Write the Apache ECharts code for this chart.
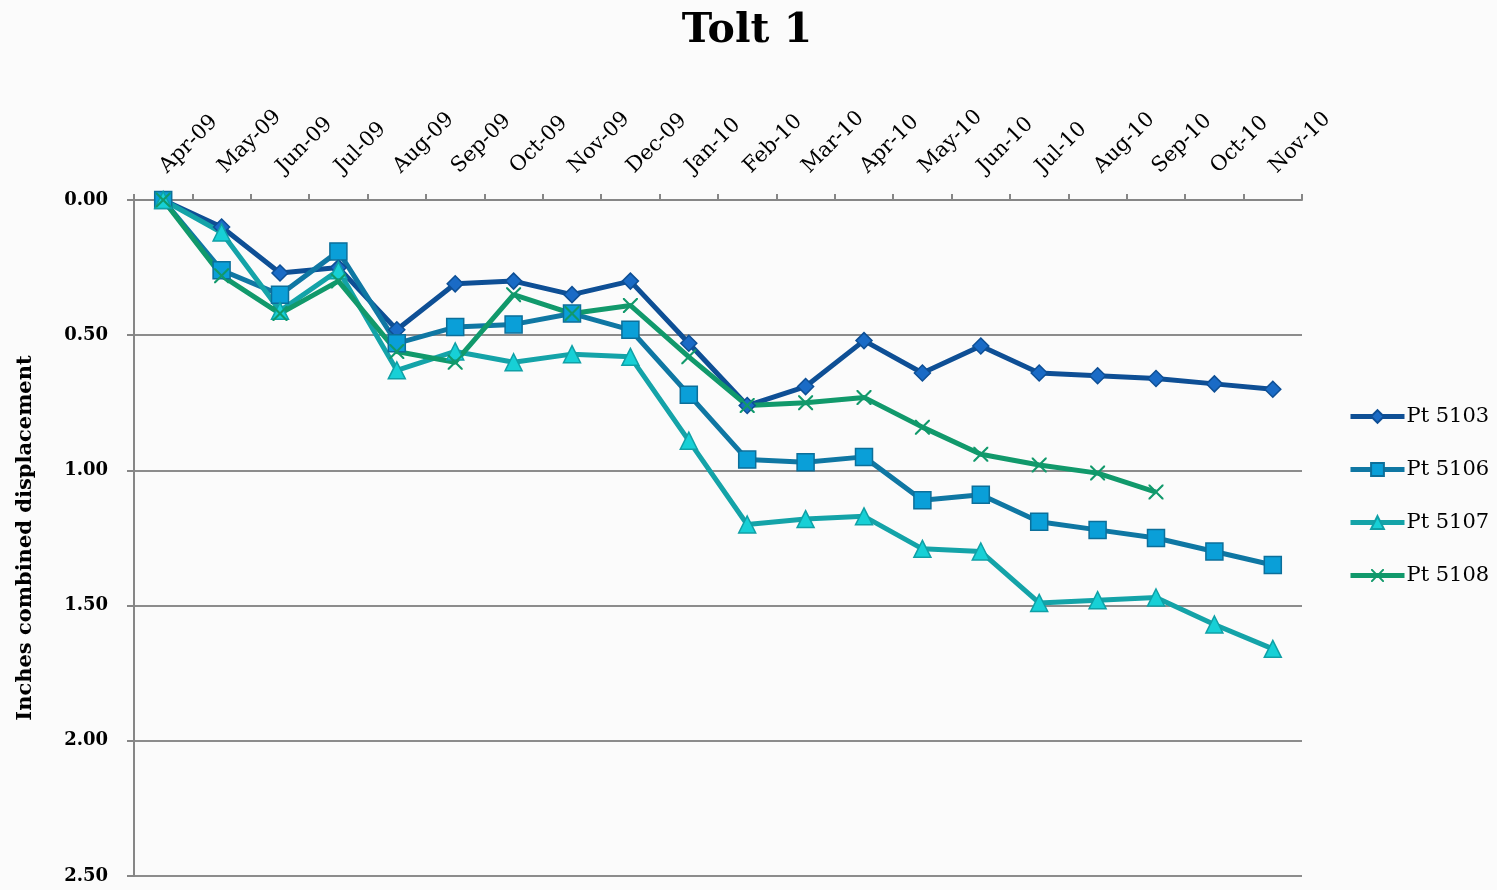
<!DOCTYPE html>
<html>
<head>
<meta charset="utf-8">
<script src="https://cdn.jsdelivr.net/npm/echarts@6/dist/echarts.min.js"></script>
<style>
html,body{margin:0;padding:0;background:#fbfbfb;}
#chart{width:1497px;height:890px;}
</style>
</head>
<body>
<div id="chart"></div>
<script>
const months = ['Apr-09','May-09','Jun-09','Jul-09','Aug-09','Sep-09','Oct-09','Nov-09','Dec-09','Jan-10','Feb-10','Mar-10','Apr-10','May-10','Jun-10','Jul-10','Aug-10','Sep-10','Oct-10','Nov-10'];
const pt5103 = [0, 0.10, 0.27, 0.25, 0.48, 0.31, 0.30, 0.35, 0.30, 0.53, 0.76, 0.69, 0.52, 0.64, 0.54, 0.64, 0.65, 0.66, 0.68, 0.70];
const pt5106 = [0, 0.26, 0.35, 0.19, 0.53, 0.47, 0.46, 0.42, 0.48, 0.72, 0.96, 0.97, 0.95, 1.11, 1.09, 1.19, 1.22, 1.25, 1.30, 1.35];
const pt5107 = [0, 0.12, 0.41, 0.26, 0.63, 0.56, 0.60, 0.57, 0.58, 0.89, 1.20, 1.18, 1.17, 1.29, 1.30, 1.49, 1.48, 1.47, 1.57, 1.66];
const pt5108 = [0, 0.28, 0.42, 0.30, 0.56, 0.60, 0.35, 0.42, 0.39, 0.58, 0.76, 0.75, 0.73, 0.84, 0.94, 0.98, 1.01, 1.08, null, null];
const yTicks = ['0.00','0.50','1.00','1.50','2.00','2.50'];

const serif = '"DejaVu Serif", "Liberation Serif", serif';
const crossPath = 'path://M0,0 L2,0 L10,8 L18,0 L20,0 L20,2 L12,10 L20,18 L20,20 L18,20 L10,12 L2,20 L0,20 L0,18 L8,10 L0,2 Z';

const chart = echarts.init(document.getElementById('chart'));
function mk(name, data, lineColor, fill, border, symbol, size) {
  return {
    name, type: 'line', data,
    symbol, symbolSize: size,
    connectNulls: false,
    lineStyle: { color: lineColor, width: 5 },
    itemStyle: { color: fill, borderColor: border, borderWidth: symbol.startsWith('path') ? 0 : 1.5 },
    emphasis: { disabled: true },
    z: 2
  };
}
chart.setOption({
  backgroundColor: '#fbfbfb',
  animation: false,
  title: {
    text: 'Tolt 1', left: 742, top: 6, textAlign: 'center',
    textStyle: { fontFamily: serif, fontWeight: 'bold', fontSize: 41, color: '#000' }
  },
  grid: { left: 134, right: 195, top: 200, bottom: 14 },
  legend: {
    orient: 'vertical', left: 1343, top: 401,
    itemWidth: 54, itemHeight: 16, itemGap: 32,
    lineStyle: { width: 5 },
    textStyle: { fontFamily: serif, fontSize: 21, color: '#000', padding: [0,0,0,-3] },
    data: ['Pt 5103','Pt 5106','Pt 5107','Pt 5108']
  },
  xAxis: {
    type: 'category', position: 'top', data: months, boundaryGap: true,
    axisLine: { lineStyle: { color: '#868686', width: 2 } },
    axisTick: { show: true, length: 6, lineStyle: { color: '#868686', width: 2 } },
    axisLabel: { rotate: 45, margin: 30, fontFamily: serif, fontSize: 21, color: '#000', interval: 0 },
    splitLine: { show: false }
  },
  yAxis: {
    type: 'value', inverse: true, min: 0, max: 2.5, interval: 0.5,
    name: 'Inches combined displacement', nameLocation: 'middle', nameGap: 98, nameRotate: 90,
    nameTextStyle: { fontFamily: serif, fontWeight: 'bold', fontSize: 21, color: '#000' },
    axisLine: { show: true, lineStyle: { color: '#868686', width: 2 } },
    axisTick: { show: true, length: 7, lineStyle: { color: '#868686', width: 2 } },
    axisLabel: { margin: 26, fontFamily: serif, fontSize: 18, fontWeight: 'bold', color: '#000',
      formatter: (v) => yTicks[Math.round(v / 0.5)] },
    splitLine: { show: true, lineStyle: { color: '#8c8c8c', width: 2 } }
  },
  series: [
    mk('Pt 5103', pt5103, '#0e4f95', '#1a6bc6', '#0e4f95', 'diamond', 16),
    mk('Pt 5106', pt5106, '#0f77a3', '#0a9fd8', '#0c6f9a', 'rect', 17),
    mk('Pt 5107', pt5107, '#14a3a8', '#17d0d6', '#0fa0a6', 'triangle', 17),
    mk('Pt 5108', pt5108, '#11996b', '#11996b', '#11996b', crossPath, 15)
  ]
});
</script>
</body>
</html>
